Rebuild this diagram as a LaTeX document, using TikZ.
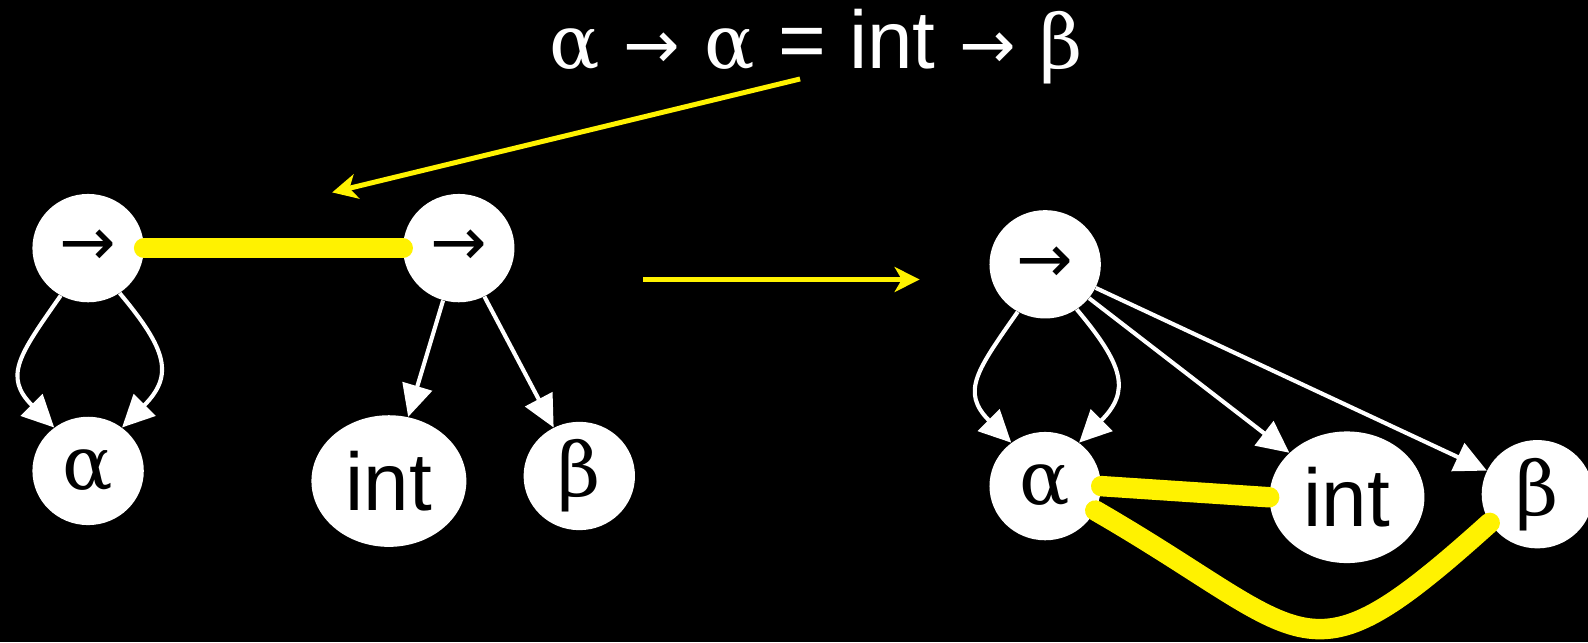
\documentclass[tikz,border=0pt]{standalone}
\usepackage{fontspec}
\setmainfont{DejaVu Serif}
\newfontfamily\sansint{Liberation Sans}
\newfontfamily\arrowfont{DejaVu Sans}
\usetikzlibrary{arrows.meta,shapes.geometric}

\begin{document}
\begin{tikzpicture}[
  x=0.02cm, y=0.02cm,
  tnode/.style={
    ellipse,
    fill=white,
    text=black,
    inner sep=0pt,
    minimum width=2.2cm,
    minimum height=2.14cm,
    font=\fontsize{42}{48}\selectfont
  },
  arrnode/.style={tnode, font=\arrowfont\fontsize{38}{44}\selectfont},
  intnode/.style={tnode, minimum width=3.06cm, minimum height=2.6cm,
    font=\sansint\fontsize{46}{52}\selectfont},
  child/.style={-{Triangle[length=18pt,width=17pt]}, draw=white, line width=2.3pt},
  unify/.style={draw=yellow, line width=11.5pt, line cap=round},
  hint/.style={-{Stealth[length=14pt,width=14pt,inset=4pt]}, draw=yellow, line width=2.8pt}
]
\fill[black] (0,0) rectangle (1568,634);
\useasboundingbox (0,0) rectangle (1568,634);

\node[anchor=base, text=white, font=\fontsize{42}{48}\selectfont] (eqn) at (806,566)
  {α {\arrowfont\fontsize{38}{44}\selectfont →} α {\sansint\fontsize{46}{52}\selectfont = int}
   {\arrowfont\fontsize{38}{44}\selectfont →} β};
\coordinate (eqn-foot) at (790,556);
\coordinate (edge-mark) at (328,444);

% before
\node[arrnode] (arrL) at (87,389) {→};
\node[arrnode] (arrR) at (453,389) {→};
\node[tnode] (alphaL) at (87,169) {α};
\node[intnode] (intL) at (384,159) {int};
\node[tnode] (betaL) at (572,164) {β};

\draw[child] (arrL.240) to[out=235,in=135,looseness=1.4] (alphaL.128);
\draw[child] (arrL.-55) to[out=-50,in=45,looseness=1.4] (alphaL.52);
\draw[child] (arrR) -- (intL);
\draw[child] (arrR) -- (betaL);
\draw[unify] (arrL.east) -- (arrR.west);

\draw[hint] (eqn-foot) -- (edge-mark);

\coordinate (step-from) at (635,358);
\coordinate (step-to) at (908,358);
\draw[hint] (step-from) -- (step-to);

% after
\node[arrnode] (arrT) at (1032,373) {→};
\node[tnode] (alphaR) at (1032,154) {α};
\node[intnode] (intR) at (1330,143) {int};
\node[tnode] (betaR) at (1518,146) {β};

\draw[child] (arrT.240) to[out=235,in=135,looseness=1.4] (alphaR.128);
\draw[child] (arrT.-55) to[out=-50,in=45,looseness=1.4] (alphaR.52);
\draw[child] (arrT) -- (intR);
\draw[child] (arrT) -- (betaR);
\draw[unify] (alphaR.east) -- (intR.west);
\draw[unify] (alphaR.-26) to[out=-30,in=-138,looseness=1.64] (betaR.211);
\end{tikzpicture}
\end{document}
